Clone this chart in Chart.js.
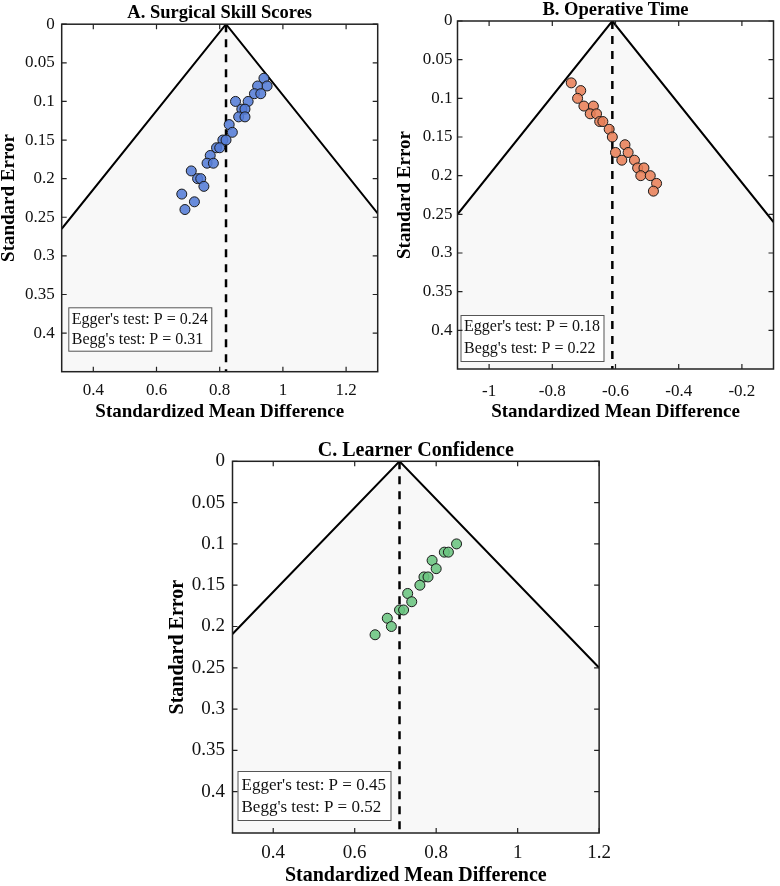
<!DOCTYPE html>
<html>
<head>
<meta charset="utf-8">
<script src="https://cdn.jsdelivr.net/npm/chart.js@4.4.1/dist/chart.umd.min.js"></script>
<style>
  body { margin: 0; background: #fff; }
  #wrap { position: relative; width: 780px; height: 886px; background: #fff; }
  canvas { position: absolute; }
</style>
</head>
<body>
<div id="wrap">
  <canvas id="chartA" width="390" height="430" style="left:0px;top:0px"></canvas>
  <canvas id="chartB" width="390" height="430" style="left:390px;top:0px"></canvas>
  <canvas id="chartC" width="470" height="446" style="left:150px;top:440px"></canvas>
</div>
<script>
/* Data */
const titles = ['A. Surgical Skill Scores', 'B. Operative Time', 'C. Learner Confidence'];
const xTitle = 'Standardized Mean Difference';
const yTitle = 'Standard Error';

const smdA = [0.94, 0.92, 0.95, 0.91, 0.93, 0.85, 0.89, 0.87, 0.88, 0.86, 0.88, 0.83, 0.84, 0.81,
              0.82, 0.79, 0.80, 0.77, 0.76, 0.78, 0.71, 0.73, 0.74, 0.75, 0.68, 0.72, 0.69];
const seA  = [0.07, 0.08, 0.08, 0.09, 0.09, 0.10, 0.10, 0.11, 0.11, 0.12, 0.12, 0.13, 0.14, 0.15,
              0.15, 0.16, 0.16, 0.17, 0.18, 0.18, 0.19, 0.20, 0.20, 0.21, 0.22, 0.23, 0.24];

const smdB = [-0.74, -0.71, -0.72, -0.70, -0.67, -0.68, -0.66, -0.65, -0.64, -0.62, -0.61,
              -0.57, -0.60, -0.56, -0.58, -0.54, -0.53, -0.51, -0.52, -0.49, -0.47, -0.48];
const seB  = [0.08, 0.09, 0.10, 0.11, 0.11, 0.12, 0.12, 0.13, 0.13, 0.14, 0.15,
              0.16, 0.17, 0.17, 0.18, 0.18, 0.19, 0.19, 0.20, 0.20, 0.21, 0.22];

const smdC = [0.85, 0.82, 0.83, 0.79, 0.80, 0.77, 0.78, 0.76, 0.73, 0.74, 0.71, 0.72, 0.68, 0.69, 0.65];
const seC  = [0.10, 0.11, 0.11, 0.12, 0.13, 0.14, 0.14, 0.15, 0.16, 0.17, 0.18, 0.18, 0.19, 0.20, 0.21];

// pooled effect (dashed line) and funnel limits [smd, se]
const pooled = [0.82, -0.61, 0.71];
const funnelA = [[0.3, 0.265], [0.82, 0], [1.3, 0.245]];
const funnelB = [[-1.1, 0.25], [-0.61, 0], [-0.1, 0.26]];
const funnelC = [[0.3, 0.209], [0.71, 0], [1.2, 0.25]];

const eggerP = [0.24, 0.18, 0.45];
const beggP  = [0.31, 0.22, 0.52];

const xRanges = [[0.3, 1.3], [-1.1, -0.1], [0.3, 1.2]];
const yRange = [0, 0.45];
const xTicksA = [0.4, 0.6, 0.8, 1, 1.2];
const xTicksB = [-1, -0.8, -0.6, -0.4, -0.2];
const xTicksC = [0.4, 0.6, 0.8, 1, 1.2];
const yTicks = [0, 0.05, 0.1, 0.15, 0.2, 0.25, 0.3, 0.35, 0.4];

const FONT = "'Liberation Serif', 'Times New Roman', serif";

/* frame with inward ticks + test box */
const framePlugin = {
    id: 'frame',
    afterDatasetsDraw(chart, args, opts) {
        const ctx = chart.ctx;
        const a = chart.chartArea;
        const sx = chart.scales.x, sy = chart.scales.y;
        ctx.save();

        // test results box
        const b = opts.box;
        const bx = a.left + b.dx, by = a.bottom - b.dy - b.h;
        ctx.fillStyle = '#fff';
        ctx.fillRect(bx, by, b.w, b.h);
        ctx.strokeStyle = '#555';
        ctx.lineWidth = 1;
        ctx.strokeRect(bx + 0.5, by + 0.5, b.w, b.h);
        ctx.fillStyle = '#111';
        ctx.font = b.size + 'px ' + FONT;
        ctx.textAlign = 'left';
        ctx.textBaseline = 'middle';
        opts.lines.forEach((t, i) => ctx.fillText(t, bx + b.tx, by + b.ty[i]));

        // box and ticks
        ctx.strokeStyle = '#222';
        ctx.lineWidth = 1.5;
        ctx.strokeRect(a.left, a.top, a.right - a.left, a.bottom - a.top);
        ctx.lineWidth = 1.2;
        ctx.beginPath();
        sx.ticks.forEach(t => {
            const px = sx.getPixelForValue(t.value);
            ctx.moveTo(px, a.bottom); ctx.lineTo(px, a.bottom - 5);
            ctx.moveTo(px, a.top); ctx.lineTo(px, a.top + 5);
        });
        sy.ticks.forEach(t => {
            const py = sy.getPixelForValue(t.value);
            ctx.moveTo(a.left, py); ctx.lineTo(a.left + 5, py);
            ctx.moveTo(a.right, py); ctx.lineTo(a.right - 5, py);
        });
        ctx.stroke();
        ctx.restore();
    }
};

function makeChart(id, p) {
    const pts = p.smd.map((v, i) => ({x: v, y: p.se[i]}));
    const config = {
        type: 'scatter',
        data: {
            datasets: [
                {
                    label: 'studies',
                    data: pts,
                    order: 0,
                    pointRadius: 5,
                    pointBackgroundColor: p.color,
                    pointBorderColor: '#1a1a1a',
                    pointBorderWidth: 1,
                },
                {
                    label: 'pooled',
                    type: 'line',
                    data: [{x: p.pooled, y: yRange[0]}, {x: p.pooled, y: yRange[1]}],
                    order: 1,
                    borderColor: '#000',
                    borderWidth: 2.5,
                    borderDash: [8, 7],
                    pointRadius: 0,
                    fill: false,
                },
                {
                    label: 'funnel',
                    type: 'line',
                    data: p.funnel.map(f => ({x: f[0], y: f[1]})),
                    order: 2,
                    borderColor: '#000',
                    borderWidth: 2,
                    backgroundColor: '#f8f8f8',
                    pointRadius: 0,
                    fill: {value: yRange[1]},
                },
            ]
        },
        options: {
            responsive: false,
            animation: false,
            layout: { padding: p.pad },
            plugins: {
                legend: { display: false },
                tooltip: { enabled: false },
                title: {
                    display: true,
                    text: p.title,
                    fullSize: false,
                    color: '#000',
                    font: { family: FONT, size: p.titleSize, weight: 'bold', lineHeight: 1 },
                    padding: p.titlePad,
                },
                frame: {
                    box: p.box,
                    lines: ["Egger's test: P = " + p.egger.toFixed(2), "Begg's test: P = " + p.begg.toFixed(2)],
                },
            },
            scales: {
                x: {
                    type: 'linear',
                    min: p.xRange[0],
                    max: p.xRange[1],
                    afterBuildTicks: s => { s.ticks = p.xTicks.map(v => ({value: v})); },
                    afterFit: s => { s.height = p.xH; },
                    grid: { display: false, drawTicks: false },
                    border: { display: false },
                    ticks: {
                        color: '#111',
                        padding: p.xTickPad,
                        maxRotation: 0,
                        font: { family: FONT, size: p.tickSize },
                        callback: v => String(v),
                    },
                    title: {
                        display: true,
                        text: xTitle,
                        color: '#000',
                        font: { family: FONT, size: p.axisSize, weight: 'bold', lineHeight: 1 },
                        padding: { top: 0, bottom: p.xTitlePad },
                    }
                },
                y: {
                    type: 'linear',
                    reverse: true,
                    min: yRange[0],
                    max: yRange[1],
                    afterBuildTicks: s => { s.ticks = yTicks.map(v => ({value: v})); },
                    afterFit: s => { s.width = p.yW; },
                    grid: { display: false, drawTicks: false },
                    border: { display: false },
                    ticks: {
                        color: '#111',
                        padding: p.yTickPad,
                        font: { family: FONT, size: p.tickSize },
                        callback: v => String(v),
                    },
                    title: {
                        display: true,
                        text: yTitle,
                        color: '#000',
                        font: { family: FONT, size: p.axisSize, weight: 'bold', lineHeight: 1 },
                        padding: { top: 0, bottom: 0 },
                    }
                }
            }
        },
        plugins: [framePlugin]
    };
    var ctx = document.getElementById(id).getContext('2d');
    return new Chart(ctx, config);
}

window.chartA = makeChart('chartA', {
    smd: smdA, se: seA, pooled: pooled[0], funnel: funnelA,
    color: 'rgba(84, 124, 214, 0.88)',
    title: titles[0], egger: eggerP[0], begg: beggP[0],
    xRange: xRanges[0], xTicks: xTicksA,
    pad: { left: 0, right: 12.3, top: 0, bottom: 0 },
    titleSize: 18.5, titlePad: { top: 3.5, bottom: 2.2 },
    tickSize: 17, axisSize: 19,
    xH: 58.3, yW: 61.7, xTickPad: 9, yTickPad: 7, xTitlePad: 8,
    box: { dx: 6.6, dy: 21, w: 143, h: 43.4, tx: 3.5, ty: [12.5, 32], size: 16 },
});

window.chartB = makeChart('chartB', {
    smd: smdB, se: seB, pooled: pooled[1], funnel: funnelB,
    color: 'rgba(232, 128, 88, 0.88)',
    title: titles[1], egger: eggerP[1], begg: beggP[1],
    xRange: xRanges[1], xTicks: xTicksB,
    pad: { left: 6, right: 6.5, top: 0, bottom: 0 },
    titleSize: 18.5, titlePad: { top: 1, bottom: 1.5 },
    tickSize: 17, axisSize: 19,
    xH: 61, yW: 61.5, xTickPad: 12, yTickPad: 5, xTitlePad: 8,
    box: { dx: 3, dy: 8, w: 143, h: 46, tx: 3.5, ty: [12, 34], size: 16 },
});

window.chartC = makeChart('chartC', {
    smd: smdC, se: seC, pooled: pooled[2], funnel: funnelC,
    color: 'rgba(106, 196, 128, 0.88)',
    title: titles[2], egger: eggerP[2], begg: beggP[2],
    xRange: xRanges[2], xTicks: xTicksC,
    pad: { left: 18, right: 20, top: 0, bottom: 0 },
    titleSize: 20, titlePad: { top: 1, bottom: 0.3 },
    tickSize: 19, axisSize: 20,
    xH: 53, yW: 64.5, xTickPad: 9, yTickPad: 7.5, xTitlePad: 0,
    box: { dx: 5, dy: 13, w: 153, h: 49, tx: 4, ty: [15, 37], size: 17 },
});
</script>
</body>
</html>
